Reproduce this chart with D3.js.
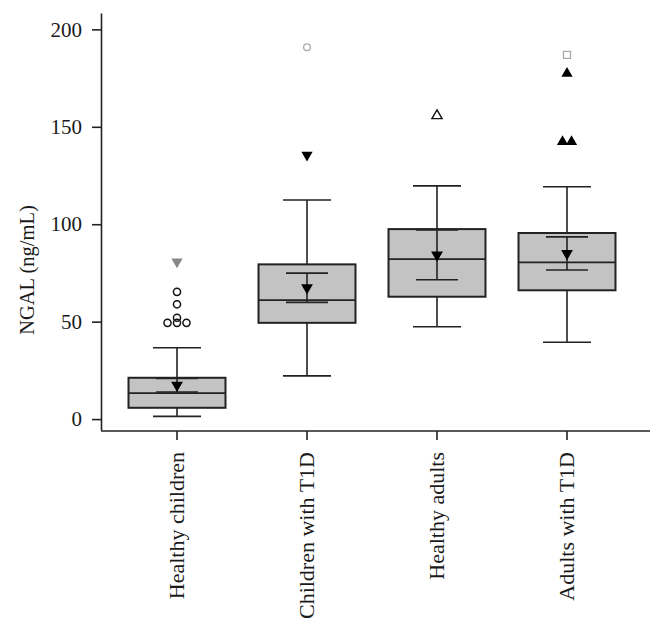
<!DOCTYPE html>
<html>
<head>
<meta charset="utf-8">
<script src="https://cdn.jsdelivr.net/npm/d3@7"></script>
<style>
  html, body { margin: 0; padding: 0; background: #fff; }
  svg { display: block; }
  text { font-family: "Liberation Serif", "Times New Roman", serif; fill: #1a1a1a; }
</style>
</head>
<body>
<svg id="chart" width="664" height="633"></svg>
<script>
// ---- data ----
const categories = ["Healthy children", "Children with T1D", "Healthy adults", "Adults with T1D"];
const whiskerLow  = [1.4, 22.2, 47.4, 39.4];
const q1          = [5.8, 49.4, 62.8, 66.1];
const median      = [13.3, 61.1, 82.1, 80.4];
const q3          = [21.2, 79.4, 97.5, 95.5];
const whiskerHigh = [36.6, 112.4, 119.7, 119.2];
const mean        = [17.4, 67.4, 84.2, 85.0];
const ciLow       = [13.9, 59.9, 71.5, 76.5];
const ciHigh      = [20.9, 74.9, 97.0, 93.5];
// outliers: category index, value, symbol kind
const outlierCategory = [0, 0, 0, 0, 0, 0, 0, 1, 1, 2, 3, 3, 3, 3];
const outlierValue    = [80.7, 65.3, 58.9, 52.0, 49.4, 49.4, 49.4, 190.8, 135.5, 155.7, 186.9, 177.4, 142.3, 142.3];
const outlierKind     = ["triDownGray", "circle", "circle", "circle", "circle", "circle", "circle",
                         "circleGray", "triDown", "triUpOpen", "squareGray", "triUp", "triUp", "triUp"];
const yTicks = [0, 50, 100, 150, 200];
const yLabel = "NGAL (ng/mL)";

// ---- drawing ----
const svg = d3.select("#chart");
const stroke = "#222";
const boxFill = "#c3c3c3";

const x = d3.scaleBand().domain(categories).range([112, 632]).padding(0);
const y = d3.scaleLinear().domain([-5.6, 208.4]).range([430, 13]);
const cx = c => x(c) + x.bandwidth() / 2;
const boxW = x.bandwidth() * 0.746;
const capW = 48, ciW = 42;

// y axis
const yAxis = svg.append("g")
  .attr("transform", "translate(101,0)")
  .call(d3.axisLeft(y).tickValues(yTicks).tickSize(9).tickSizeOuter(0).tickPadding(10));
yAxis.select(".domain").attr("stroke", stroke).attr("stroke-width", 1.6);
yAxis.selectAll(".tick line").attr("stroke", stroke).attr("stroke-width", 1.6);
yAxis.selectAll(".tick text").style("font-size", "21px").style("font-family", "Liberation Serif, serif").attr("fill", "#1a1a1a");

// x axis
const xAxis = svg.append("g")
  .attr("transform", "translate(0,431)")
  .call(d3.axisBottom(x).tickSize(9).tickSizeOuter(0));
xAxis.select(".domain").remove();
xAxis.append("line").attr("x1", 101).attr("x2", 650).attr("y1", 0).attr("y2", 0)
  .attr("stroke", stroke).attr("stroke-width", 1.6);
xAxis.selectAll(".tick line").attr("stroke", stroke).attr("stroke-width", 1.6);
xAxis.selectAll(".tick text")
  .style("font-size", "22px").style("font-family", "Liberation Serif, serif").attr("fill", "#1a1a1a")
  .attr("text-anchor", "end")
  .attr("transform", "translate(0,21) rotate(-90)")
  .attr("x", 0).attr("y", 0).attr("dy", "0.3em");

// y label
svg.append("text")
  .attr("transform", "translate(27,270) rotate(-90)")
  .attr("text-anchor", "middle").attr("dy", "0.35em")
  .style("font-size", "20.5px")
  .text(yLabel);

// boxes
const g = svg.append("g");
categories.forEach((c, i) => {
  const xc = cx(c);
  const bg = g.append("g");
  bg.append("line").attr("x1", xc).attr("x2", xc).attr("y1", y(whiskerLow[i])).attr("y2", y(q1[i]))
    .attr("stroke", stroke).attr("stroke-width", 1.6);
  bg.append("line").attr("x1", xc).attr("x2", xc).attr("y1", y(q3[i])).attr("y2", y(whiskerHigh[i]))
    .attr("stroke", stroke).attr("stroke-width", 1.6);
  [whiskerLow[i], whiskerHigh[i]].forEach(v => {
    bg.append("line").attr("x1", xc - capW / 2).attr("x2", xc + capW / 2).attr("y1", y(v)).attr("y2", y(v))
      .attr("stroke", stroke).attr("stroke-width", 1.6);
  });
  bg.append("rect").attr("x", xc - boxW / 2).attr("width", boxW)
    .attr("y", y(q3[i])).attr("height", y(q1[i]) - y(q3[i]))
    .attr("fill", boxFill).attr("stroke", stroke).attr("stroke-width", 2);
  bg.append("line").attr("x1", xc - boxW / 2).attr("x2", xc + boxW / 2).attr("y1", y(median[i])).attr("y2", y(median[i]))
    .attr("stroke", stroke).attr("stroke-width", 1.8);
  bg.append("line").attr("x1", xc).attr("x2", xc).attr("y1", y(ciLow[i])).attr("y2", y(ciHigh[i]))
    .attr("stroke", stroke).attr("stroke-width", 1.6);
  [ciLow[i], ciHigh[i]].forEach(v => {
    bg.append("line").attr("x1", xc - ciW / 2).attr("x2", xc + ciW / 2).attr("y1", y(v)).attr("y2", y(v))
      .attr("stroke", stroke).attr("stroke-width", 1.6);
  });
  bg.append("path")
    .attr("transform", `translate(${xc},${y(mean[i])}) rotate(180)`)
    .attr("d", d3.symbol(d3.symbolTriangle, 60)())
    .attr("fill", "#000");
});

// outliers with side-by-side spread for equal values
const groups = d3.group(d3.range(outlierValue.length), i => outlierCategory[i] + "|" + outlierValue[i]);
const og = svg.append("g");
groups.forEach(idxs => {
  const n = idxs.length;
  idxs.forEach((i, k) => {
    const kind = outlierKind[i];
    const spacing = kind.startsWith("circle") ? 9.5 : 9;
    const xo = cx(categories[outlierCategory[i]]) + (k - (n - 1) / 2) * spacing;
    const yo = y(outlierValue[i]);
    const t = og.append("path").attr("transform", `translate(${xo},${yo})`);
    if (kind === "circle") {
      t.attr("d", d3.symbol(d3.symbolCircle, 40)()).attr("fill", "none").attr("stroke", "#111").attr("stroke-width", 1.5);
    } else if (kind === "circleGray") {
      t.attr("d", d3.symbol(d3.symbolCircle, 36)()).attr("fill", "none").attr("stroke", "#aaa").attr("stroke-width", 1.3);
    } else if (kind === "squareGray") {
      t.attr("d", d3.symbol(d3.symbolSquare, 50)()).attr("fill", "none").attr("stroke", "#aaa").attr("stroke-width", 1.3);
    } else if (kind === "triDownGray") {
      t.attr("transform", `translate(${xo},${yo}) rotate(180)`)
       .attr("d", d3.symbol(d3.symbolTriangle, 55)()).attr("fill", "#888");
    } else if (kind === "triDown") {
      t.attr("transform", `translate(${xo},${yo}) rotate(180)`)
       .attr("d", d3.symbol(d3.symbolTriangle, 55)()).attr("fill", "#000");
    } else if (kind === "triUp") {
      t.attr("d", d3.symbol(d3.symbolTriangle, 55)()).attr("fill", "#000");
    } else if (kind === "triUpOpen") {
      t.attr("d", d3.symbol(d3.symbolTriangle, 45)()).attr("fill", "none").attr("stroke", "#111").attr("stroke-width", 1.4);
    }
  });
});
</script>
</body>
</html>
